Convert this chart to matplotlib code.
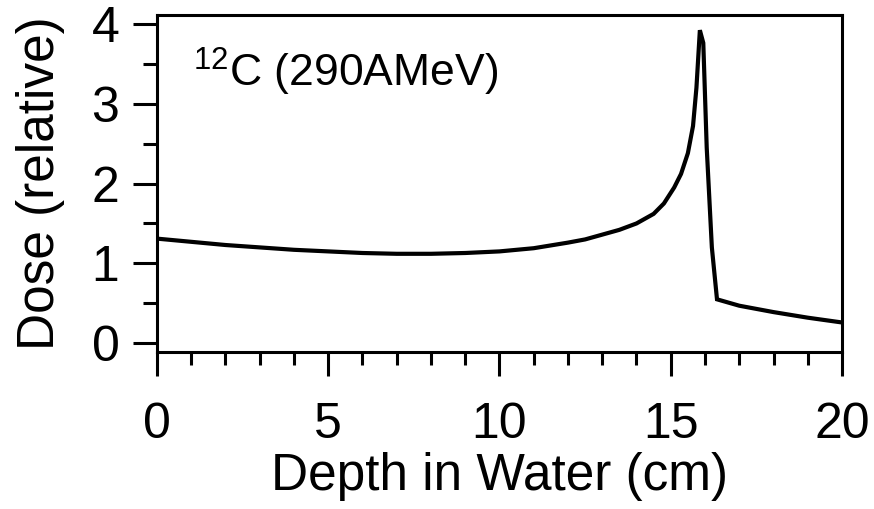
import matplotlib
matplotlib.use('Agg')
import matplotlib.pyplot as plt
from matplotlib.ticker import MultipleLocator

plt.rcParams['font.family'] = ['Liberation Sans', 'DejaVu Sans']
plt.rcParams['mathtext.fontset'] = 'custom'
plt.rcParams['mathtext.rm'] = 'Liberation Sans'

# depth-dose curve
depth = [0, 1, 2, 3, 4, 5, 6, 7, 8, 9, 10, 11, 12, 12.5, 13, 13.5, 14,
         14.5, 14.8, 15.1, 15.3, 15.5, 15.65, 15.75, 15.85, 15.95, 16.05,
         16.2, 16.35, 17, 18, 19, 20]
dose = [1.31, 1.27, 1.23, 1.20, 1.17, 1.15, 1.13, 1.12, 1.12, 1.13, 1.15,
        1.19, 1.26, 1.30, 1.36, 1.42, 1.50, 1.62, 1.75, 1.95, 2.12, 2.38,
        2.72, 3.20, 3.92, 3.76, 2.45, 1.20, 0.55, 0.47, 0.39, 0.32, 0.26]

label_text = r'$\mathrm{^{12}C}$ (290AMeV)'

fig = plt.figure(figsize=(8.74, 5.09), dpi=100)
ax = fig.add_axes([0.1796, 0.3084, 0.7838, 0.6621])

ax.plot(depth, dose, color='black', lw=3.0, solid_joinstyle='miter')

ax.set_xlim(0, 20)
ax.set_ylim(-0.11, 4.11)
ax.xaxis.set_major_locator(MultipleLocator(5))
ax.xaxis.set_minor_locator(MultipleLocator(1))
ax.yaxis.set_major_locator(MultipleLocator(1))
ax.yaxis.set_minor_locator(MultipleLocator(0.5))

ax.tick_params(which='both', direction='out', top=False, right=False,
               width=2.2, labelsize=36)
ax.tick_params(axis='x', which='major', length=17, pad=19)
ax.tick_params(axis='x', which='minor', length=9)
ax.tick_params(axis='y', which='major', length=17, pad=10)
ax.tick_params(axis='y', which='minor', length=10)

for s in ax.spines.values():
    s.set_linewidth(2.2)

ax.set_xlabel('Depth in Water (cm)', fontsize=37, labelpad=3)
ax.set_ylabel('Dose (relative)', fontsize=37, labelpad=19)

ax.text(1.05, 3.21, label_text, fontsize=32, ha='left', va='baseline')

fig.savefig('out.png', dpi=100)
